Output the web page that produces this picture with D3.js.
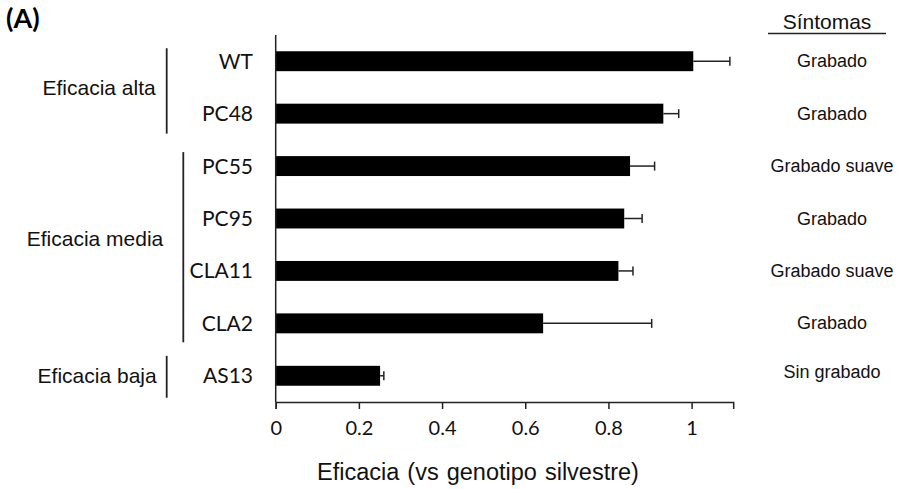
<!DOCTYPE html>
<html>
<head>
<meta charset="utf-8">
<script src="https://cdn.jsdelivr.net/npm/d3@7"></script>
<style>
  html, body { margin: 0; padding: 0; background: #fff; }
  svg { display: block; }
</style>
</head>
<body>
<svg id="chart" width="900" height="489"></svg>
<script>
// Genotypes, top to bottom
const categories = ["WT", "PC48", "PC55", "PC95", "CLA11", "CLA2", "AS13"];
// Relative efficacy versus wild type, and its error
const efficacy = [1.004, 0.932, 0.852, 0.838, 0.824, 0.643, 0.251];
const errors = [0.088, 0.037, 0.059, 0.043, 0.035, 0.261, 0.009];
// Observed symptoms per genotype
const symptoms = ["Grabado", "Grabado", "Grabado suave", "Grabado", "Grabado suave", "Grabado", "Sin grabado"];
// Efficacy groups (first and last genotype of each)
const groupLabels = ["Eficacia alta", "Eficacia media", "Eficacia baja"];
const groupFirst = ["WT", "PC55", "AS13"];
const groupLast = ["PC48", "CLA2", "AS13"];
// Axis ticks
const xTicks = [0, 0.2, 0.4, 0.6, 0.8, 1];
const xTickLabels = ["0", "0.2", "0.4", "0.6", "0.8", "1"];

const svg = d3.select("#chart");
const axisColor = "#222";
const calibriLike = "Lato, 'Noto Sans', sans-serif";
const arialLike = "'Liberation Sans', Arial, sans-serif";

const x = d3.scaleLinear().domain([0, 1.1]).range([275.7, 733.2]);
const y = d3.scaleBand().domain(categories).range([35, 402])
  .paddingInner(0.62).paddingOuter(0.31);

// Bars
svg.append("g").selectAll("rect")
  .data(categories)
  .join("rect")
  .attr("x", x(0))
  .attr("y", d => y(d))
  .attr("width", (d, i) => x(efficacy[i]) - x(0))
  .attr("height", y.bandwidth())
  .attr("fill", "#000");

// Error bars (positive side only)
const eb = svg.append("g").attr("stroke", axisColor).attr("stroke-width", 1.5);
categories.forEach((c, i) => {
  const cy = y(c) + y.bandwidth() / 2;
  const x1 = x(efficacy[i]), x2 = x(efficacy[i] + errors[i]);
  eb.append("line").attr("x1", x1).attr("x2", x2).attr("y1", cy).attr("y2", cy);
  eb.append("line").attr("x1", x2).attr("x2", x2).attr("y1", cy - 4.5).attr("y2", cy + 4.5);
});

// Vertical axis line
svg.append("line")
  .attr("x1", x(0)).attr("x2", x(0))
  .attr("y1", 35).attr("y2", 402)
  .attr("stroke", axisColor).attr("stroke-width", 1.5);

// Horizontal axis
const xAxis = d3.axisBottom(x)
  .tickValues(xTicks)
  .tickFormat((d, i) => xTickLabels[i])
  .tickSizeOuter(0)
  .tickSize(7)
  .tickPadding(12);
const gx = svg.append("g").attr("transform", "translate(0,402)").call(xAxis);
gx.select(".domain").attr("stroke", axisColor).attr("stroke-width", 1.5);
gx.selectAll(".tick line").attr("stroke", axisColor).attr("stroke-width", 1.5);
gx.selectAll(".tick text")
  .attr("fill", "#111")
  .attr("font-family", calibriLike)
  .attr("font-size", 20);

// Axis title
svg.append("text")
  .attr("x", 478).attr("y", 480)
  .attr("text-anchor", "middle")
  .attr("font-family", arialLike)
  .attr("font-size", 23.5)
  .attr("word-spacing", 1.5)
  .attr("fill", "#111")
  .text("Eficacia (vs genotipo silvestre)");

// Genotype labels
svg.append("g").selectAll("text")
  .data(categories)
  .join("text")
  .attr("x", 253)
  .attr("y", d => y(d) + y.bandwidth() / 2 + 7.5)
  .attr("text-anchor", "end")
  .attr("font-family", calibriLike)
  .attr("font-size", 21)
  .attr("fill", "#111")
  .text(d => d);

// Symptoms column
svg.append("text")
  .attr("x", 827).attr("y", 29)
  .attr("text-anchor", "middle")
  .attr("font-family", arialLike)
  .attr("font-size", 21)
  .attr("fill", "#111")
  .text("Síntomas");
svg.append("line")
  .attr("x1", 768).attr("x2", 886)
  .attr("y1", 33.5).attr("y2", 33.5)
  .attr("stroke", axisColor).attr("stroke-width", 1.5);

svg.append("g").selectAll("text")
  .data(categories)
  .join("text")
  .attr("x", 832)
  .attr("y", (d, i) => y(d) + y.bandwidth() / 2 + 6 - (i === categories.length - 1 ? 4 : 0))
  .attr("text-anchor", "middle")
  .attr("font-family", arialLike)
  .attr("font-size", 18)
  .attr("fill", "#111")
  .text((d, i) => symptoms[i]);

// Group brackets and labels
const bracketX = [166.7, 183.3, 166.7];
const bracketTopPad = [3, 4, 10];
const bracketBottomPad = [10, 9, 12];
const labelGap = [11, 20, 10];
const labelShift = [0, -6, 0];
groupLabels.forEach((g, i) => {
  const top = y(groupFirst[i]) - bracketTopPad[i];
  const bottom = y(groupLast[i]) + y.bandwidth() + bracketBottomPad[i];
  svg.append("line")
    .attr("x1", bracketX[i]).attr("x2", bracketX[i])
    .attr("y1", top).attr("y2", bottom)
    .attr("stroke", axisColor).attr("stroke-width", 1.8);
  const firstC = y(groupFirst[i]) + y.bandwidth() / 2;
  const lastC = y(groupLast[i]) + y.bandwidth() / 2;
  svg.append("text")
    .attr("x", bracketX[i] - labelGap[i])
    .attr("y", (firstC + lastC) / 2 + 7.5 + labelShift[i])
    .attr("text-anchor", "end")
    .attr("font-family", arialLike)
    .attr("font-size", 21)
    .attr("fill", "#111")
    .text(g);
});

// Panel letter
svg.append("text")
  .attr("x", 6).attr("y", 28)
  .attr("font-family", calibriLike)
  .attr("font-weight", "bold")
  .attr("font-size", 27)
  .attr("fill", "#000")
  .text("(A)");
</script>
</body>
</html>
